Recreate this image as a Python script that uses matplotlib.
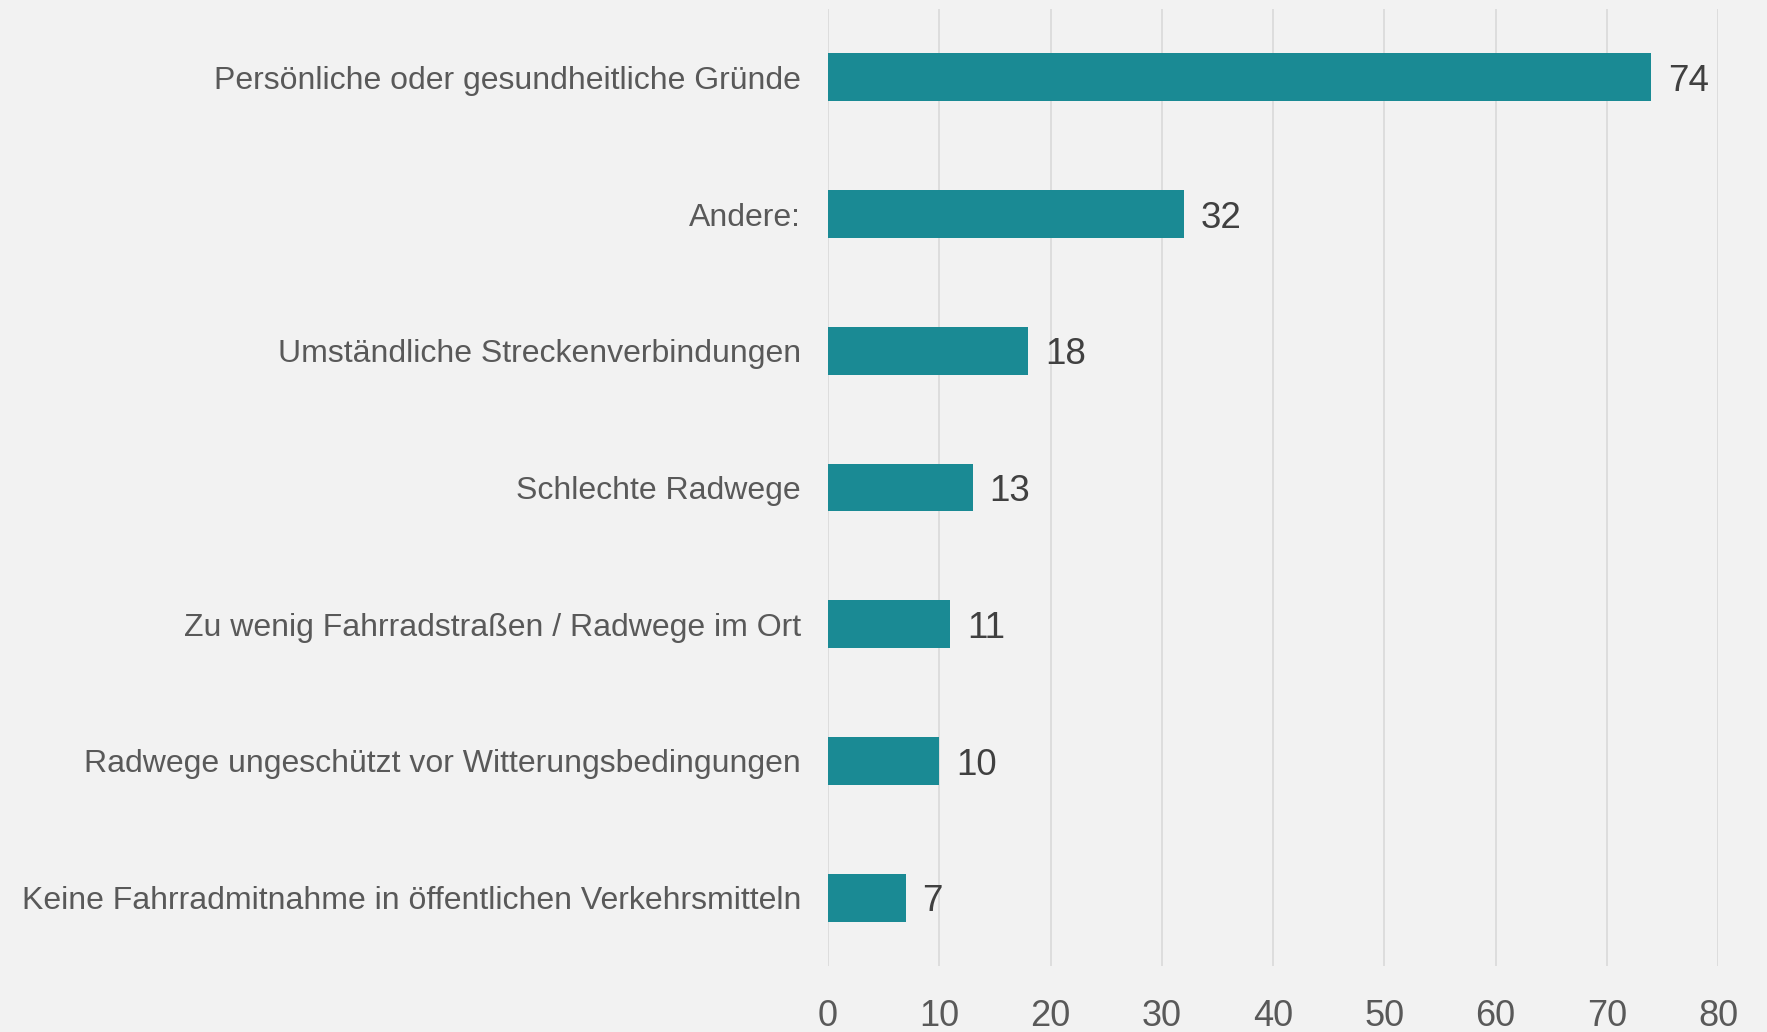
import matplotlib.pyplot as plt

plt.rcParams['font.family'] = ['Liberation Sans', 'DejaVu Sans']

categories = [
    'Persönliche oder gesundheitliche Gründe',
    'Andere:',
    'Umständliche Streckenverbindungen',
    'Schlechte Radwege',
    'Zu wenig Fahrradstraßen / Radwege im Ort',
    'Radwege ungeschützt vor Witterungsbedingungen',
    'Keine Fahrradmitnahme in öffentlichen Verkehrsmitteln',
]
values = [74, 32, 18, 13, 11, 10, 7]
x_ticks = [0, 10, 20, 30, 40, 50, 60, 70, 80]

BG = '#F2F2F2'
BAR = '#1A8A94'

fig = plt.figure(figsize=(17.67, 10.32), dpi=100, facecolor=BG)
ax = fig.add_axes([0.4686, 0.064, 0.5037, 0.9273], facecolor=BG)

pos = list(range(len(categories)))
ax.barh(pos, values, height=0.35, color=BAR, zorder=3)

for p, v in zip(pos, values):
    ax.annotate(str(v), (v, p), xytext=(12, -3), textcoords='offset points',
                va='center', ha='left', fontsize=26.5, color='#404040')

ax.set_xlim(0, 80)
ax.set_ylim(len(categories) - 0.5, -0.5)
ax.set_xticks(x_ticks)
ax.set_xticklabels([str(t) for t in x_ticks])
ax.set_yticks(pos)
ax.set_yticklabels(categories)

ax.grid(axis='x', color='#D9D9D9', linewidth=1.2, zorder=0)
ax.tick_params(axis='x', length=0, pad=24, labelsize=26, labelcolor='#595959')
ax.tick_params(axis='y', length=0, pad=19.5, labelsize=23, labelcolor='#595959')
for s in ax.spines.values():
    s.set_visible(False)

fig.savefig('out.png', dpi=100, facecolor=BG)
